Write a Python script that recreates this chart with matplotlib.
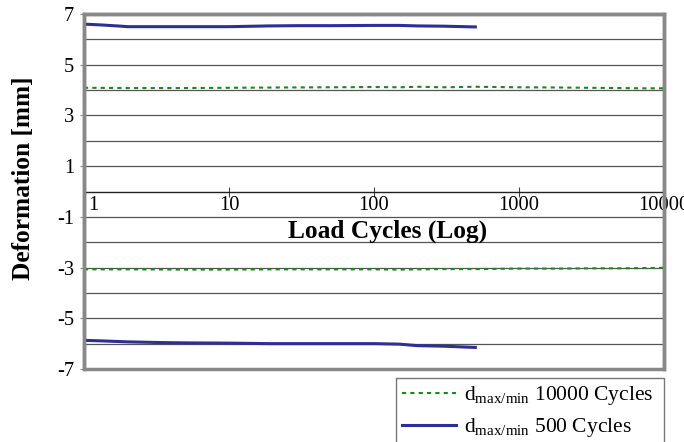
import matplotlib
matplotlib.use("Agg")
import matplotlib.pyplot as plt
from matplotlib.patches import Rectangle
from matplotlib.ticker import FixedLocator, NullFormatter
from matplotlib.transforms import ScaledTranslation

plt.rcParams['font.family'] = ['Liberation Serif', 'DejaVu Serif']
plt.rcParams['mathtext.fontset'] = 'custom'
plt.rcParams['mathtext.rm'] = 'Liberation Serif'
plt.rcParams['axes.unicode_minus'] = False

# ---- data ----
x_500 = [1, 1.3, 1.8, 2, 3.6, 5, 10, 19, 30, 50, 100, 150, 200, 300, 500]
top_500 = [6.60, 6.57, 6.52, 6.50, 6.50, 6.50, 6.50, 6.53, 6.54, 6.54, 6.55, 6.55, 6.53, 6.52, 6.49]
bot_500 = [-5.87, -5.89, -5.92, -5.93, -5.96, -5.97, -5.98, -6.00, -6.00, -6.00, -6.00, -6.02, -6.08, -6.10, -6.15]

x_10000 = [1, 2, 5, 10, 20, 50, 100, 150, 200, 300, 500, 700, 1000, 2000, 3000, 5000, 7000, 10000]
top_10000 = [4.09, 4.08, 4.08, 4.09, 4.10, 4.11, 4.12, 4.11, 4.13, 4.11, 4.13, 4.12, 4.11, 4.10, 4.09, 4.08, 4.07, 4.07]
bot_10000 = [-3.07, -3.07, -3.08, -3.08, -3.07, -3.07, -3.07, -3.08, -3.07, -3.06, -3.06, -3.05, -3.04, -3.04, -3.03, -3.03, -3.02, -3.01]

y_major = [7, 5, 3, 1, -1, -3, -5, -7]
x_ticks = [1, 10, 100, 1000, 10000]
x_labels = ['1', '10', '100', '1000', '10000']

label_10000 = r'$\mathregular{d_{max/min}}$ 10000 Cycles'
label_500 = r'$\mathregular{d_{max/min}}$ 500 Cycles'

green = '#1a8a1a'
blue = '#2e2e96'

fig = plt.figure(figsize=(6.84, 4.42), dpi=100)
ax = fig.add_axes([84/684, 1-369/442, 580/684, 355/442])

ax.set_xscale('log')
ax.set_xlim(1, 10000)
ax.set_ylim(-7, 7)

# gridlines
for v in range(-6, 7):
    if v != 0:
        ax.axhline(v, color='#555555', lw=0.9, zorder=1)

l1, = ax.plot(x_10000, top_10000, color=green, lw=1.5, ls=(0, (2, 2)), zorder=3, label=label_10000)
ax.plot(x_10000, bot_10000, color=green, lw=1.5, ls=(0, (2, 2)), zorder=3)
l2, = ax.plot(x_500, top_500, color=blue, lw=2.2, zorder=3, label=label_500)
ax.plot(x_500, bot_500, color=blue, lw=2.2, zorder=3)

# spines
for s in ['top', 'left', 'right']:
    ax.spines[s].set_color('#888888')
    ax.spines[s].set_linewidth(2.5)
ax.spines['bottom'].set_position(('data', 0))
ax.spines['bottom'].set_color('#222222')
ax.spines['bottom'].set_linewidth(1.0)
ax.add_patch(Rectangle((0, 0), 1, 1, transform=ax.transAxes, fill=False,
                       edgecolor='#888888', lw=2.5, zorder=5, clip_on=False))

ax.xaxis.set_major_locator(FixedLocator(x_ticks))
ax.set_xticklabels(x_labels)
ax.xaxis.set_minor_formatter(NullFormatter())
ax.xaxis.set_minor_locator(FixedLocator([]))
ax.tick_params(axis='x', direction='inout', length=7, width=0.8, color='#444444',
               labelsize=14.8, pad=0)
lbls = ax.get_xticklabels()
lbls[0].set_horizontalalignment('left')
lbls[0].set_transform(lbls[0].get_transform() + ScaledTranslation(4/100, 0, fig.dpi_scale_trans))

ax.set_yticks(y_major)
ax.set_yticklabels([str(v) for v in y_major])
ax.tick_params(axis='y', direction='out', length=3, width=0.8, color='#888888',
               labelsize=14.8, pad=4)

ax.text((388-84)/580, -1.55, 'Load Cycles (Log)', transform=ax.get_yaxis_transform(),
        ha='center', va='center', fontsize=18.3, fontweight='bold')
fig.text(24/684, 1-178.5/442, 'Deformation [mm]', rotation=90, ha='center', va='center',
         fontsize=18.3, fontweight='bold')

leg = fig.legend(handles=[l1, l2], loc='upper left',
                 bbox_to_anchor=(396/684, 1-378/442, 268/684, 0), mode='expand',
                 fontsize=15.5, frameon=True, fancybox=False, edgecolor='#555555',
                 handlelength=2.5, handletextpad=0.35, labelspacing=0.4,
                 borderpad=0.3, borderaxespad=0)
leg.get_frame().set_linewidth(1.0)

fig.savefig('out.png', dpi=100)
